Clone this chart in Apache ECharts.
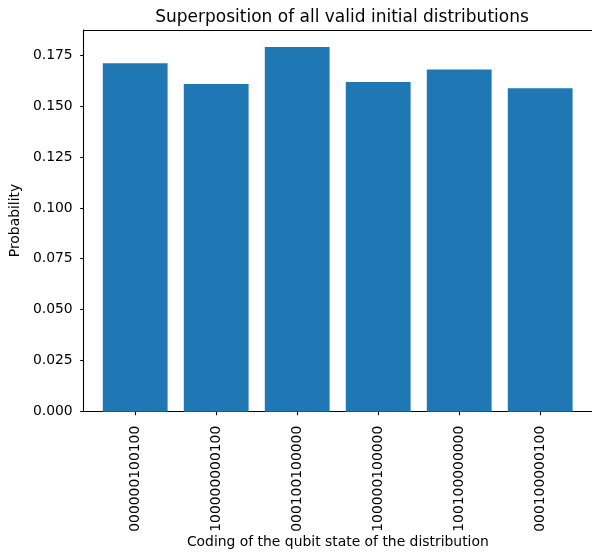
<!DOCTYPE html>
<html>
<head>
<meta charset="utf-8">
<script src="https://cdn.jsdelivr.net/npm/echarts@6/dist/echarts.min.js"></script>
<style>
html,body{margin:0;padding:0;background:#fff;}
#chart{width:592px;height:554px;}
</style>
</head>
<body>
<div id="chart"></div>
<script>
var categories = ["000000100100", "100000000100", "000100100000", "100000100000", "100100000000", "000100000100"];
var probabilities = [0.1713, 0.1610, 0.1793, 0.1620, 0.1682, 0.1590];
var yTicks = [0, 0.025, 0.05, 0.075, 0.1, 0.125, 0.15, 0.175];
var yMax = 0.1876;

var FONT = "DejaVu Sans";
var chart = echarts.init(document.getElementById('chart'), null, {renderer: 'canvas'});
var lineStyle = {color: '#000', width: 1.1};

chart.setOption({
  animation: false,
  backgroundColor: '#fff',
  textStyle: {fontFamily: FONT},
  title: {
    text: 'Superposition of all valid initial distributions',
    left: 337, top: 4, textAlign: 'center',
    textStyle: {fontFamily: FONT, fontSize: 17, fontWeight: 'normal', color: '#000'}
  },
  grid: [
    {left: 80, top: 30, width: 516, height: 381.7, containLabel: false},
    {left: 94.7, top: 30, width: 486, height: 381.7, containLabel: false}
  ],
  xAxis: [
    {gridIndex: 0, type: 'value', min: 0, max: 1, position: 'bottom',
     axisLine: {show: true, lineStyle: lineStyle}, axisTick: {show: false},
     axisLabel: {show: false}, splitLine: {show: false},
     name: 'Coding of the qubit state of the distribution', nameLocation: 'middle', nameGap: 124,
     nameTextStyle: {fontFamily: FONT, fontSize: 13.9, color: '#000'}},
    {gridIndex: 0, type: 'value', min: 0, max: 1, position: 'top',
     axisLine: {show: true, lineStyle: lineStyle}, axisTick: {show: false},
     axisLabel: {show: false}, splitLine: {show: false}},
    {gridIndex: 1, type: 'category', data: categories, position: 'bottom',
     axisLine: {show: false},
     axisTick: {show: true, alignWithLabel: true, length: 3.5, lineStyle: lineStyle},
     axisLabel: {rotate: 90, margin: 14, fontFamily: FONT, fontSize: 13.9, color: '#000', interval: 0},
     splitLine: {show: false}}
  ],
  yAxis: [
    {gridIndex: 0, type: 'value', min: 0, max: yMax,
     axisLine: {show: true, lineStyle: lineStyle},
     axisTick: {show: true, length: 3.5, lineStyle: lineStyle, customValues: yTicks},
     axisLabel: {customValues: yTicks, margin: 11, fontFamily: FONT, fontSize: 13.9, color: '#000',
       formatter: function (v) { return v.toFixed(3); }},
     splitLine: {show: false},
     name: 'Probability', nameLocation: 'middle', nameGap: 58, nameRotate: 90,
     nameTextStyle: {fontFamily: FONT, fontSize: 13.9, color: '#000'}},
    {gridIndex: 1, type: 'value', min: 0, max: yMax, show: false}
  ],
  series: [{
    type: 'bar',
    xAxisIndex: 2, yAxisIndex: 1,
    data: probabilities,
    barWidth: '80%',
    itemStyle: {color: '#1f77b4'}
  }]
});
</script>
</body>
</html>
